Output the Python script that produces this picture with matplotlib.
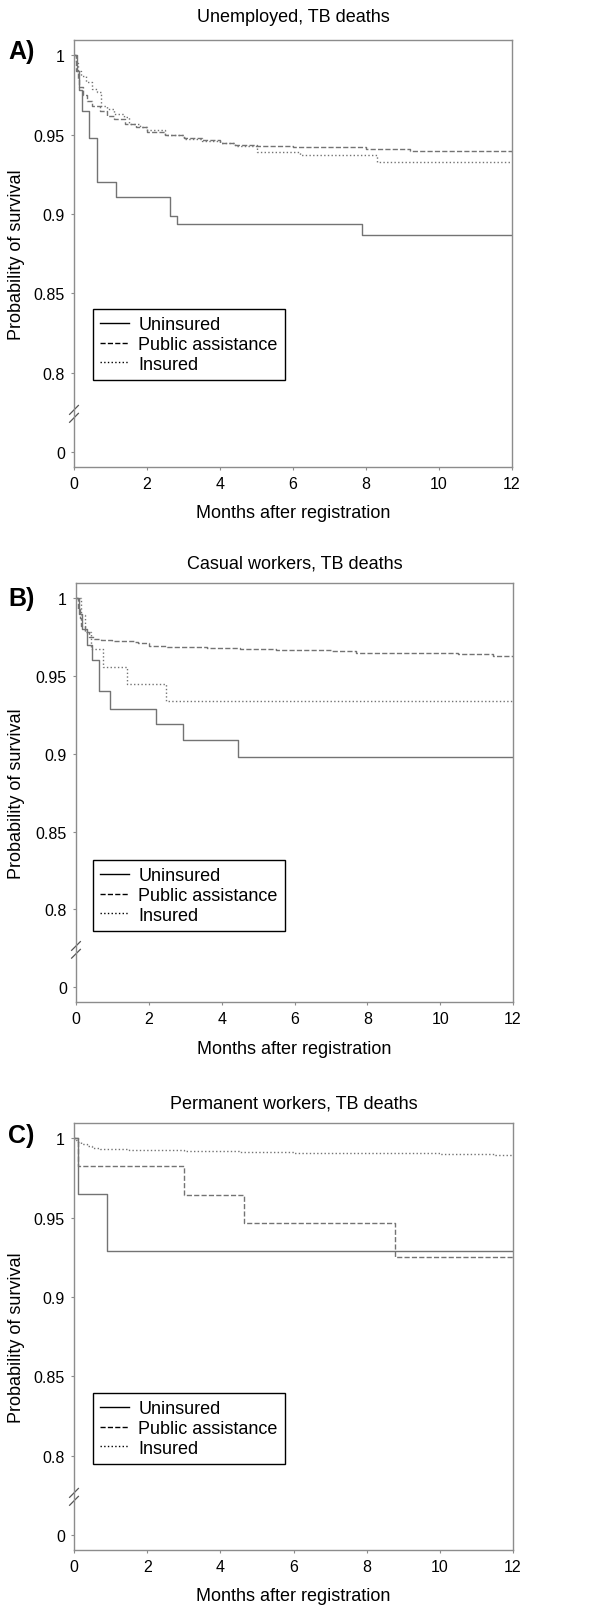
import matplotlib
matplotlib.use('Agg')
import matplotlib.pyplot as plt

plt.rcParams['font.family'] = ['Liberation Sans', 'DejaVu Sans']

# Kaplan-Meier curves (months, survival probability)
labels = ['Uninsured', 'Public assistance', 'Insured']

# A) Unemployed
a_unins_t = [0, 0.08, 0.15, 0.23, 0.41, 0.62, 1.15, 2.63, 2.81, 7.9, 12]
a_unins_s = [1, 0.99, 0.978, 0.965, 0.948, 0.920, 0.911, 0.899, 0.894, 0.887, 0.887]
a_pub_t = [0, 0.05, 0.1, 0.15, 0.25, 0.36, 0.5, 0.7, 0.9, 1.1, 1.4, 1.7, 2.0, 2.5, 3.0,
           3.5, 4.0, 4.4, 5.0, 6.0, 7.0, 8.0, 9.2, 11.0, 12]
a_pub_s = [1, 0.99, 0.985, 0.98, 0.975, 0.971, 0.968, 0.965, 0.962, 0.96, 0.957, 0.955, 0.952,
           0.9496, 0.948, 0.9465, 0.945, 0.9435, 0.943, 0.9425, 0.942, 0.941, 0.9398, 0.9395, 0.9393]
a_ins_t = [0, 0.05, 0.1, 0.2, 0.32, 0.5, 0.64, 0.73, 0.9, 1.1, 1.37, 1.5, 1.8, 2.0, 2.5,
           3.0, 3.5, 4.0, 4.4, 5.0, 6.2, 8.3, 12]
a_ins_s = [1, 0.995, 0.99, 0.987, 0.983, 0.979, 0.977, 0.968, 0.966, 0.963, 0.961, 0.957, 0.955,
           0.953, 0.9495, 0.9475, 0.946, 0.9445, 0.943, 0.939, 0.9375, 0.933, 0.933]

# B) Casual workers
b_unins_t = [0, 0.08, 0.17, 0.3, 0.45, 0.62, 0.92, 2.2, 2.95, 4.45, 12]
b_unins_s = [1, 0.99, 0.98, 0.97, 0.96, 0.94, 0.929, 0.919, 0.909, 0.898, 0.898]
b_pub_t = [0, 0.05, 0.1, 0.15, 0.25, 0.35, 0.5, 0.7, 1.0, 1.6, 1.7, 2.0, 2.5, 3.6, 4.5,
           5.4, 5.5, 7.0, 7.7, 9.0, 10.5, 11.45, 12]
b_pub_s = [1, 0.993, 0.987, 0.982, 0.978, 0.975, 0.974, 0.973, 0.9725, 0.972, 0.971, 0.969,
           0.9685, 0.968, 0.9675, 0.967, 0.9665, 0.966, 0.965, 0.9645, 0.964, 0.9628, 0.9625]
b_ins_t = [0, 0.15, 0.25, 0.4, 0.73, 1.39, 2.47, 12]
b_ins_s = [1, 0.989, 0.978, 0.967, 0.956, 0.945, 0.934, 0.934]

# C) Permanent workers
c_unins_t = [0, 0.12, 0.89, 12]
c_unins_s = [1, 0.965, 0.929, 0.929]
c_pub_t = [0, 0.1, 3.02, 4.64, 8.78, 12]
c_pub_s = [1, 0.9825, 0.9645, 0.9465, 0.9255, 0.9255]
c_ins_t = [0, 0.05, 0.1, 0.2, 0.35, 0.5, 0.7, 1.5, 3, 4.5, 6, 8, 10, 11.5, 12]
c_ins_s = [1, 0.999, 0.998, 0.9965, 0.995, 0.994, 0.9932, 0.9928, 0.992, 0.9915, 0.991,
           0.9905, 0.990, 0.9895, 0.9893]

titles = ['Unemployed, TB deaths', 'Casual workers, TB deaths', 'Permanent workers, TB deaths']
panel_tags = ['A)', 'B)', 'C)']
xticks = [0, 2, 4, 6, 8, 10, 12]
# the "0" tick is drawn at 0.75, below the axis break
yticks = [0.75, 0.8, 0.85, 0.9, 0.95, 1.0]
yticklabels = ['0', '0.8', '0.85', '0.9', '0.95', '1']

panels = [
    [(a_unins_t, a_unins_s), (a_pub_t, a_pub_s), (a_ins_t, a_ins_s)],
    [(b_unins_t, b_unins_s), (b_pub_t, b_pub_s), (b_ins_t, b_ins_s)],
    [(c_unins_t, c_unins_s), (c_pub_t, c_pub_s), (c_ins_t, c_ins_s)],
]
styles = ['-', '--', ':']

W, H = 612, 1608
fig = plt.figure(figsize=(W / 100, H / 100), dpi=100)

# axes boxes in pixels: left, right, top, bottom
boxes = [(74, 512, 41, 468), (76, 513, 584, 1003), (74, 513, 1124, 1551)]
title_y = [17, 564, 1104]
tag_y = [52, 599, 1136]
legend_top = [310, 861, 1394]

frame_col = '#8c8c8c'
curve_col = '#737373'

for i, (l, r, t, b) in enumerate(boxes):
    ax = fig.add_axes([l / W, 1 - b / H, (r - l) / W, (b - t) / H])

    for (tt, ss), ls, lab in zip(panels[i], styles, labels):
        ax.plot(tt, ss, drawstyle='steps-post', color=curve_col, lw=1.0, ls=ls)

    ax.set_xlim(0, 12)
    ax.set_ylim(0.7405, 1.0097)
    ax.set_xticks(xticks)
    ax.set_yticks(yticks)
    ax.set_yticklabels(yticklabels)
    ax.tick_params(labelsize=11.5, length=2.5, width=0.8, color=frame_col, pad=4)
    for sp in ax.spines.values():
        sp.set_color(frame_col)
        sp.set_linewidth(1.0)

    # axis break marks between 0 and 0.8
    tr = ax.get_yaxis_transform()
    for yb in [0.7765, 0.7715]:
        ax.plot([-0.01, 0.01], [yb - 0.0028, yb + 0.0028], transform=tr,
                color='#555555', lw=0.9, clip_on=False)

    # legend with black line samples
    handles = [plt.Line2D([], [], color='black', lw=1.0, ls=ls) for ls in styles]
    ax.legend(handles, labels, loc='upper left',
              bbox_to_anchor=((93 - l) / (r - l), (b - legend_top[i]) / (b - t)),
              fontsize=13, frameon=True, fancybox=False, edgecolor='black',
              framealpha=1, handlelength=1.6, handletextpad=0.5,
              labelspacing=0.15, borderpad=0.4, borderaxespad=0)
    ax.get_legend().get_frame().set_linewidth(1.0)

    cx = (l + r) / 2 / W
    fig.text(cx, 1 - title_y[i] / H, titles[i], ha='center', va='center', fontsize=13)
    fig.text(cx, 1 - (b + 46) / H, 'Months after registration', ha='center', va='center', fontsize=13)
    fig.text(17 / W, 1 - (t + b) / 2 / H, 'Probability of survival', rotation=90,
             ha='center', va='center', fontsize=13)
    fig.text(8 / W, 1 - tag_y[i] / H, panel_tags[i], ha='left', va='center',
             fontsize=18, fontweight='bold')

fig.savefig('out.png', dpi=100)
